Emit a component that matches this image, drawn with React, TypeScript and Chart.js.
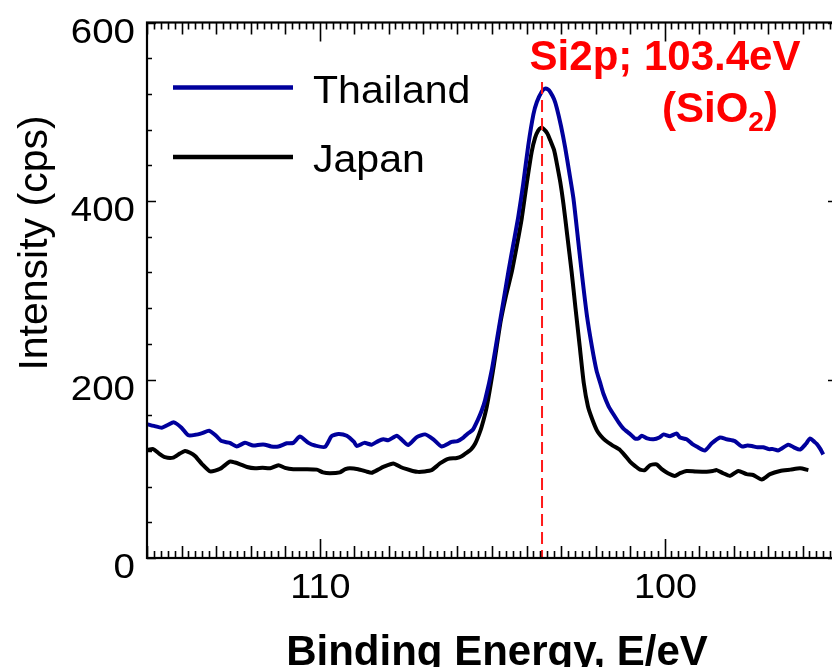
import React, { useEffect, useRef } from "react";
import { Chart, registerables } from "chart.js";

Chart.register(...registerables);

// ---------------- data ----------------
const thailandEnergy = [
  115.0, 114.8, 114.57, 114.4, 114.22, 114.0, 113.8, 113.6, 113.4, 113.2, 113.0, 112.84, 112.6, 112.4,
  112.16, 111.92, 111.72, 111.58, 111.4, 111.19, 110.95, 110.76, 110.57, 110.32, 110.13, 109.84, 109.65,
  109.45, 109.21, 109.0, 108.92, 108.7, 108.49, 108.3, 108.15, 108.0, 107.76, 107.6, 107.43, 107.18,
  106.94, 106.7, 106.46, 106.17, 106.0, 105.83, 105.68, 105.55, 105.42, 105.3, 105.2, 105.0, 104.8,
  104.65, 104.52, 104.38, 104.24, 104.1, 103.95, 103.8, 103.7, 103.55, 103.46, 103.38, 103.31, 103.2,
  103.12, 103.0, 102.88, 102.76, 102.64, 102.52, 102.4, 102.25, 102.1, 101.97, 101.87, 101.77, 101.62,
  101.48, 101.33, 101.19, 101.0, 100.86, 100.75, 100.66, 100.5, 100.32, 100.15, 100.03, 99.84, 99.65,
  99.55, 99.36, 99.2, 99.07, 98.83, 98.63, 98.39, 98.2, 97.96, 97.76, 97.6, 97.47, 97.3, 97.14, 96.98,
  96.85, 96.7, 96.41, 96.25, 96.07, 95.9, 95.78, 95.65, 95.59, 95.48, 95.4,
];
const thailandCounts = [
  150, 148, 146, 149, 152, 146, 137.5, 138, 140, 142.5, 137, 131, 129, 125,
  129, 126, 127, 127, 125, 125, 128.5, 129, 136, 129, 126, 124.5, 136.5,
  139, 137, 130, 125.5, 129, 127, 131, 133, 132, 137, 132, 126.5, 135.5,
  138.5, 133, 125, 130, 131, 135, 140, 144, 154, 165, 177, 212, 258,
  292, 322, 352, 382, 418, 462, 497, 511, 523, 526, 525, 522, 514,
  504, 484, 460, 432, 403, 362, 320, 272, 236, 210, 197, 184, 170,
  161, 152, 145, 139, 134, 134, 137, 134, 133, 135, 138.5, 136.5, 139.5,
  135, 133, 128, 125, 120.5, 128.5, 135, 133, 131, 125, 126, 125.5, 124, 124, 122,
  122, 120.5, 127, 124, 121.5, 128, 134, 130, 128, 122, 116,
];

const japanEnergy = [
  115.0, 114.82, 114.65, 114.48, 114.24, 114.05, 113.9, 113.75, 113.6, 113.4, 113.17, 112.88, 112.6,
  112.45, 112.3, 112.1, 111.87, 111.65, 111.43, 111.19, 111.0, 110.76, 110.4, 110.08, 109.9, 109.7,
  109.41, 109.25, 109.12, 108.88, 108.65, 108.49, 108.3, 108.15, 107.86, 107.65, 107.47, 107.3, 107.14,
  106.95, 106.75, 106.6, 106.51, 106.27, 106.02, 105.88, 105.73, 105.6, 105.49, 105.4, 105.3, 105.15,
  104.95, 104.75, 104.6, 104.43, 104.28, 104.14, 104.0, 103.85, 103.75, 103.66, 103.58, 103.51, 103.4,
  103.31, 103.2, 103.12, 103.02, 102.93, 102.82, 102.69, 102.58, 102.46, 102.34, 102.22, 102.1, 101.96,
  101.85, 101.72, 101.5, 101.29, 101.15, 101.0, 100.85, 100.71, 100.57, 100.42, 100.23, 100.08, 99.9,
  99.7, 99.55, 99.36, 99.1, 98.78, 98.6, 98.49, 98.3, 98.1, 97.86, 97.62, 97.43, 97.18, 96.94, 96.65,
  96.35, 96.07, 95.83,
];
const japanCounts = [
  121, 122, 117, 113, 112.5, 117, 120, 118, 114, 105, 97, 100, 108,
  107, 105, 102, 100.5, 101, 100.5, 104, 101, 99.5, 99.5, 99, 96, 95,
  96, 99.5, 100.5, 99.5, 97, 95.5, 99, 102, 106, 102, 99.5, 97.5, 96.5,
  97, 98.5, 103, 106, 111, 112, 114, 118, 122, 128, 136, 147, 170,
  215, 265, 293, 320, 350, 380, 418, 455, 471, 479, 482, 481, 476,
  468, 457, 442, 421, 397, 362, 320, 280, 238, 196, 170, 156, 143,
  137, 132, 126, 121, 115, 108, 103, 99, 98.5, 104, 105, 99.5, 95,
  92, 95, 97.5, 97, 96.7, 97.5, 98.5, 95, 92, 97.5, 94, 93, 88, 94, 97.5,
  99, 100.5, 98.5,
];

const seriesNames = ["Thailand", "Japan"];
const seriesColors = ["#00009c", "#000000"];
const xTickLabels = [110, 100];
const yTickLabels = [0, 200, 400, 600];
const referenceEnergy = 103.55;
const referenceLabel = "Si2p; 103.4eV";
const xTitle = "Binding Energy, E/eV";
const yTitle = "Intensity (cps)";

// ---------------- layout ----------------
const CANVAS_W = 870;
const CANVAS_H = 667;
const AREA = { left: 147, top: 22.5, right: 837, bottom: 558 };
const FONT = "Arial, 'Liberation Sans', sans-serif";

function stretchedText(ctx: CanvasRenderingContext2D, text: string, x: number, y: number, sx: number, align: "left" | "right" | "center") {
  const w = ctx.measureText(text).width * sx;
  let x0 = x;
  if (align === "right") x0 = x - w;
  if (align === "center") x0 = x - w / 2;
  ctx.save();
  ctx.translate(x0, y);
  ctx.scale(sx, 1);
  ctx.textAlign = "left";
  ctx.fillText(text, 0, 0);
  ctx.restore();
}

const decorPlugin = {
  id: "decor",
  afterDatasetsDraw(chart: any) {
    const { ctx, chartArea: a, scales } = chart;
    const xs = scales.x;
    const ys = scales.y;
    ctx.save();

    // reference dashed line
    const rx = xs.getPixelForValue(referenceEnergy);
    ctx.strokeStyle = "#ff1a1a";
    ctx.lineWidth = 2;
    ctx.setLineDash([12, 6]);
    ctx.beginPath();
    ctx.moveTo(rx, 82);
    ctx.lineTo(rx, a.bottom);
    ctx.stroke();
    ctx.setLineDash([]);

    // frame
    ctx.strokeStyle = "#000";
    ctx.lineWidth = 2.2;
    ctx.strokeRect(a.left, a.top, a.right - a.left, a.bottom - a.top);

    // x ticks (inward, bottom + top)
    ctx.lineWidth = 1.6;
    for (let k = 950; k <= 1150; k += 2) {
      const px = Math.round(xs.getPixelForValue(k / 10)) + 0.5;
      const len = k % 100 === 0 ? 19 : k % 10 === 0 ? 12 : 7;
      ctx.beginPath();
      ctx.moveTo(px, a.bottom);
      ctx.lineTo(px, a.bottom - len);
      ctx.moveTo(px, a.top);
      ctx.lineTo(px, a.top + len);
      ctx.stroke();
    }
    // y ticks (inward, left + right)
    for (let v = 0; v <= 600; v += 40) {
      const py = Math.round(ys.getPixelForValue(v)) + 0.5;
      const len = v % 200 === 0 ? 9 : 5;
      ctx.beginPath();
      ctx.moveTo(a.left, py);
      ctx.lineTo(a.left + len, py);
      ctx.moveTo(a.right, py);
      ctx.lineTo(a.right - len, py);
      ctx.stroke();
    }

    // tick labels
    ctx.fillStyle = "#000";
    ctx.font = `35px ${FONT}`;
    ctx.textBaseline = "alphabetic";
    for (const v of xTickLabels) {
      stretchedText(ctx, String(v), xs.getPixelForValue(v) + 1, 598, 1.08, "center");
    }
    for (const v of yTickLabels) {
      stretchedText(ctx, String(v), 135, ys.getPixelForValue(v) + 20, 1.1, "right");
    }

    // axis titles
    ctx.font = `bold 42px ${FONT}`;
    ctx.textAlign = "center";
    ctx.fillText(xTitle, 497, 665);
    ctx.save();
    ctx.translate(47, 243);
    ctx.rotate(-Math.PI / 2);
    ctx.font = `41px ${FONT}`;
    ctx.textAlign = "center";
    ctx.fillText(yTitle, 0, 0);
    ctx.restore();

    // legend
    const legendY = [87.5, 157];
    seriesNames.forEach((name, i) => {
      ctx.strokeStyle = seriesColors[i];
      ctx.lineWidth = 4.5;
      ctx.beginPath();
      ctx.moveTo(173, legendY[i]);
      ctx.lineTo(293, legendY[i]);
      ctx.stroke();
      ctx.fillStyle = "#000";
      ctx.font = `38px ${FONT}`;
      stretchedText(ctx, name, 313, legendY[i] + 15, 1.08, "left");
    });

    // annotation text
    ctx.fillStyle = "#ff0000";
    ctx.font = `bold 42px ${FONT}`;
    ctx.textAlign = "center";
    ctx.fillText(referenceLabel, 665, 70);
    ctx.textAlign = "left";
    let x = 662;
    const parts: [string, number, number][] = [
      ["(SiO", 42, 121.7],
      ["2", 28, 131],
      [")", 42, 121.7],
    ];
    for (const [t, size, base] of parts) {
      ctx.font = `bold ${size}px ${FONT}`;
      ctx.fillText(t, x, base);
      x += ctx.measureText(t).width;
    }

    ctx.restore();
  },
};

export default function App() {
  const ref = useRef<HTMLCanvasElement | null>(null);
  useEffect(() => {
    if (!ref.current) return;
    const toPoints = (xs: number[], ys: number[]) => xs.map((x, i) => ({ x, y: ys[i] }));
    const chart = new Chart(ref.current, {
      type: "line",
      data: {
        datasets: [
          {
            label: seriesNames[0],
            data: toPoints(thailandEnergy, thailandCounts),
            borderColor: seriesColors[0],
            borderWidth: 4,
            pointRadius: 0,
            tension: 0.2,
            fill: false,
          },
          {
            label: seriesNames[1],
            data: toPoints(japanEnergy, japanCounts),
            borderColor: seriesColors[1],
            borderWidth: 4,
            pointRadius: 0,
            tension: 0.2,
            fill: false,
          },
        ],
      },
      options: {
        animation: false,
        responsive: false,
        maintainAspectRatio: false,
        devicePixelRatio: 1,
        layout: {
          padding: {
            left: AREA.left,
            top: AREA.top,
            right: CANVAS_W - AREA.right,
            bottom: CANVAS_H - AREA.bottom,
          },
        },
        plugins: { legend: { display: false }, tooltip: { enabled: false } },
        scales: {
          x: { type: "linear", min: 95, max: 115, reverse: true, display: false },
          y: { type: "linear", min: 0, max: 600, display: false },
        },
      },
      plugins: [decorPlugin],
    });
    return () => chart.destroy();
  }, []);
  return (
    <div style={{ position: "fixed", left: 0, top: 0, width: 832, height: 667, overflow: "hidden", background: "#fff" }}>
      <canvas ref={ref} width={CANVAS_W} height={CANVAS_H} style={{ width: CANVAS_W, height: CANVAS_H, display: "block" }} />
    </div>
  );
}
